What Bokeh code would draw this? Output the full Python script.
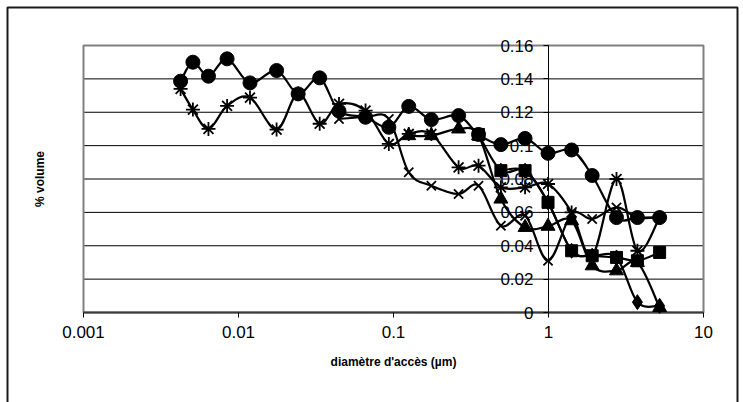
import math
import numpy as np
from bokeh.plotting import figure
from bokeh.models import Range1d, FixedTicker, Label, BoxAnnotation
from bokeh.embed import file_html
from bokeh.resources import INLINE

# ---- data ----
diam = [0.00423, 0.00508, 0.0064, 0.00844, 0.01186, 0.01761, 0.02425, 0.0334,
        0.0445, 0.066, 0.0933, 0.1254, 0.1755, 0.263, 0.3537, 0.493, 0.706,
        0.993, 1.41, 1.913, 2.746, 3.747, 5.21]
N = None
s_diamond = [N] * 15 + [0.085, 0.085, 0.066, 0.037, 0.034, 0.033, 0.0062, 0.004]
s_square = [N] * 14 + [0.1067, 0.085, 0.085, 0.066, 0.037, 0.034, 0.033, 0.031, 0.036]
s_triangle = [N] * 11 + [0.106, 0.106, 0.110, 0.106, 0.068, 0.051, 0.0517, 0.055,
                         0.028, 0.025, 0.030, 0.003]
s_cross = [N] * 8 + [0.116, 0.117, 0.116, 0.084, 0.076, 0.071, 0.076, 0.052, 0.058,
                     0.031, 0.059, 0.056, 0.063, 0.057, 0.057]
s_star = [0.134, 0.1216, 0.110, 0.1238, 0.1288, 0.1096, 0.1313, 0.1131, 0.125, 0.121,
          0.101, 0.107, 0.107, 0.087, 0.088, 0.075, 0.075, 0.077, 0.060, 0.034,
          0.080, 0.037, 0.057]
s_circle = [0.1386, 0.150, 0.1416, 0.152, 0.1376, 0.145, 0.131, 0.1406, 0.1207, 0.117,
            0.111, 0.1235, 0.1156, 0.118, 0.1067, 0.1006, 0.1043, 0.0954, 0.0974,
            0.0821, 0.0569, 0.0569, 0.0569]

x_ticks = [0.001, 0.01, 0.1, 1, 10]
x_tick_labels = ["0.001", "0.01", "0.1", "1", "10"]
y_ticks = [0, 0.02, 0.04, 0.06, 0.08, 0.1, 0.12, 0.14, 0.16]
y_tick_labels = ["0", "0.02", "0.04", "0.06", "0.08", "0.1", "0.12", "0.14", "0.16"]
y_axis_cross = 1
x_title = "diamètre d'accès (µm)"
y_title = "% volume"

# ---- layout (pixels) ----
W, H = 743, 402
PL, PR, PT, PB = 83, 703, 45, 312      # plot-area edges on the canvas
YTITLE_PX = 39                         # centre of the rotated y title
FONT = "Liberation Sans"

xmin, xmax = x_ticks[0], x_ticks[-1]
ymin, ymax = y_ticks[0], y_ticks[-1]
dec = (PR - PL) / (math.log10(xmax) - math.log10(xmin))
lx0 = math.log10(xmin) - PL / dec
lx1 = math.log10(xmax) + (W - PR) / dec
yper = (ymax - ymin) / (PB - PT)
y0 = ymin - (H - PB) * yper
y1 = ymax + PT * yper

p = figure(width=W, height=H, x_axis_type="log",
           x_range=Range1d(10 ** lx0, 10 ** lx1), y_range=Range1d(y0, y1),
           output_backend="svg", toolbar_location=None, min_border=0,
           background_fill_color="white", border_fill_color="white")
p.outline_line_color = None
p.xgrid.visible = False
p.ygrid.visible = False

# outer chart border
p.add_layout(BoxAnnotation(left=7, right=737, top=7, bottom=460,
                           left_units="canvas", right_units="canvas",
                           top_units="canvas", bottom_units="canvas",
                           fill_alpha=0, line_color="#1a1a1a", line_alpha=1,
                           line_width=2, level="underlay"))

# horizontal gridlines inside the plot area
inner = [t for t in y_ticks if ymin < t < ymax]
p.segment(x0=[xmin] * len(inner), x1=[xmax] * len(inner), y0=inner, y1=inner,
          line_color="black", line_width=1, level="underlay")
# plot-area border
p.quad(left=[xmin], right=[xmax], bottom=[ymin], top=[ymax], fill_color=None,
       line_color="#808080", line_width=2, level="underlay")

# x axis at y = 0
xa = p.xaxis[0]
xa.fixed_location = ymin
xa.bounds = (xmin, xmax)
xa.ticker = FixedTicker(ticks=x_ticks, minor_ticks=[])
xa.major_label_overrides = dict(zip(x_ticks, x_tick_labels))
xa.major_tick_out = 5
xa.major_tick_in = 0
xa.minor_tick_out = 0
xa.minor_tick_in = 0
xa.axis_line_color = "#3a3a3a"
xa.axis_line_width = 2
xa.major_tick_line_color = "black"
xa.major_label_text_font = FONT
xa.major_label_text_font_size = "17px"
xa.major_label_text_color = "black"
xa.major_label_standoff = 8
xa.axis_label = x_title
xa.axis_label_text_font = FONT
xa.axis_label_text_font_size = "12px"
xa.axis_label_text_font_style = "bold"
xa.axis_label_text_color = "black"
xa.axis_label_standoff = 14

# y axis crossing at x = 1
ya = p.yaxis[0]
ya.fixed_location = y_axis_cross
ya.bounds = (ymin, ymax)
ya.ticker = FixedTicker(ticks=y_ticks, minor_ticks=[])
ya.major_label_overrides = dict(zip(y_ticks, y_tick_labels))
ya.major_tick_out = 5
ya.major_tick_in = 0
ya.minor_tick_out = 0
ya.minor_tick_in = 0
ya.axis_line_color = "black"
ya.major_tick_line_color = "black"
ya.major_label_text_font = FONT
ya.major_label_text_font_size = "17px"
ya.major_label_text_color = "black"
ya.major_label_standoff = 10

# y title
ytitle_x = 10 ** (math.log10(xmin) - (PL - YTITLE_PX) / dec)
p.add_layout(Label(x=ytitle_x, y=(ymin + ymax) / 2, text=y_title, angle=90,
                   angle_units="deg", text_align="center", text_baseline="middle",
                   text_font=FONT, text_font_size="12px", text_font_style="bold",
                   text_color="black"))


def smooth(xs, ys):
    pts = [(np.log10(x), y) for x, y in zip(xs, ys) if y is not None]
    P = np.array(pts)
    n = len(P)
    segs = {k: [] for k in ("x0", "y0", "x1", "y1", "cx0", "cy0", "cx1", "cy1")}
    for i in range(n - 1):
        p0 = P[i - 1] if i > 0 else P[i]
        p1, p2 = P[i], P[i + 1]
        p3 = P[i + 2] if i + 2 < n else P[i + 1]
        c1 = p1 + (p2 - p0) / 6.0
        c2 = p2 - (p3 - p1) / 6.0
        segs["x0"].append(10 ** p1[0]); segs["y0"].append(p1[1])
        segs["x1"].append(10 ** p2[0]); segs["y1"].append(p2[1])
        segs["cx0"].append(10 ** c1[0]); segs["cy0"].append(c1[1])
        segs["cx1"].append(10 ** c2[0]); segs["cy1"].append(c2[1])
    return segs


series = [
    (s_diamond, "diamond", 15, 1),
    (s_square, "square", 12, 1),
    (s_triangle, "triangle", 14, 1),
    (s_cross, "x", 13, 1.8),
    (s_star, "asterisk", 14, 1.8),
    (s_circle, "circle", 14, 1),
]

for ys, marker, size, lw in series:
    segs = smooth(diam, ys)
    p.bezier(line_color="black", line_width=2.2, level="overlay", **segs)
    xs = [x for x, y in zip(diam, ys) if y is not None]
    yv = [y for y in ys if y is not None]
    p.scatter(xs, yv, marker=marker, size=size, fill_color="black",
              line_color="black", line_width=lw, level="overlay")

open("out.html", "w").write(file_html(p, INLINE))
